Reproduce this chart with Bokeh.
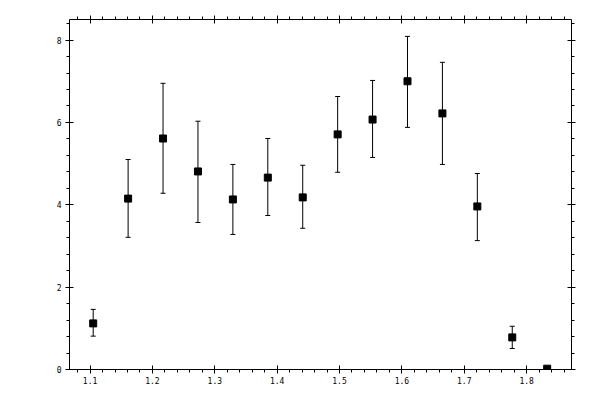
from bokeh.plotting import figure
from bokeh.models import (ColumnDataSource, Whisker, TeeHead, LinearAxis, Range1d,
                          SingleIntervalTicker, CustomJSTickFormatter)
from bokeh.embed import file_html
from bokeh.resources import INLINE

# ---- data ----
x_vals = [1.105, 1.161, 1.217, 1.273, 1.329, 1.385, 1.441, 1.497, 1.553, 1.609, 1.665, 1.721, 1.777, 1.833]
y_vals = [1.12, 4.15, 5.61, 4.81, 4.13, 4.66, 4.18, 5.71, 6.07, 7.00, 6.22, 3.96, 0.78, 0.02]
y_low  = [0.81, 3.21, 4.28, 3.57, 3.28, 3.74, 3.43, 4.79, 5.15, 5.88, 4.98, 3.13, 0.51, 0.00]
y_high = [1.46, 5.10, 6.95, 6.03, 4.98, 5.61, 4.96, 6.63, 7.02, 8.09, 7.46, 4.76, 1.05, 0.05]

x_range = (1.067, 1.872)
y_range = (0.0, 8.5)
x_tick_step = 0.1
y_tick_step = 2

src = ColumnDataSource(data=dict(x=x_vals, y=y_vals, lo=y_low, hi=y_high))

p = figure(width=586, height=387, output_backend="svg", toolbar_location=None,
           x_range=Range1d(*x_range), y_range=Range1d(*y_range),
           min_border_left=69, min_border_right=15, min_border_top=19, min_border_bottom=18,
           frame_width=502, frame_height=350)
p.outline_line_color = None
p.xgrid.visible = False
p.ygrid.visible = False
p.background_fill_color = "white"
p.border_fill_color = "white"

FONT = "DejaVu Sans Mono"

def style_axis(ax, labels=True):
    ax.axis_line_color = "black"
    ax.axis_line_width = 1
    ax.major_tick_line_color = "black"
    ax.minor_tick_line_color = "black"
    ax.major_tick_in = 4
    ax.major_tick_out = 4
    ax.minor_tick_in = 0
    ax.minor_tick_out = 3
    ax.major_label_text_font = FONT
    ax.major_label_text_font_size = "8px"
    ax.major_label_text_color = "black"
    if not labels:
        ax.formatter = CustomJSTickFormatter(code="return ''")

xt = SingleIntervalTicker(interval=x_tick_step, num_minor_ticks=5)
yt = SingleIntervalTicker(interval=y_tick_step, num_minor_ticks=5)

p.xaxis.ticker = xt
p.yaxis.ticker = yt
for ax in p.xaxis:
    style_axis(ax)
    ax.major_label_standoff = 3
for ax in p.yaxis:
    style_axis(ax)
    ax.major_label_standoff = 4

top = LinearAxis(ticker=SingleIntervalTicker(interval=x_tick_step, num_minor_ticks=5))
style_axis(top, labels=False)
top.major_label_standoff = 0
p.add_layout(top, "above")

right = LinearAxis(ticker=SingleIntervalTicker(interval=y_tick_step, num_minor_ticks=5))
style_axis(right, labels=False)
right.major_label_standoff = 0
p.add_layout(right, "right")

wh = Whisker(source=src, base="x", lower="lo", upper="hi", line_color="black", line_width=1,
             upper_head=TeeHead(size=5, line_color="black", line_width=1),
             lower_head=TeeHead(size=5, line_color="black", line_width=1))
p.add_layout(wh)

p.scatter(x="x", y="y", source=src, marker="square", size=7,
          fill_color="black", line_color="black")

open("out.html", "w").write(file_html(p, INLINE))
